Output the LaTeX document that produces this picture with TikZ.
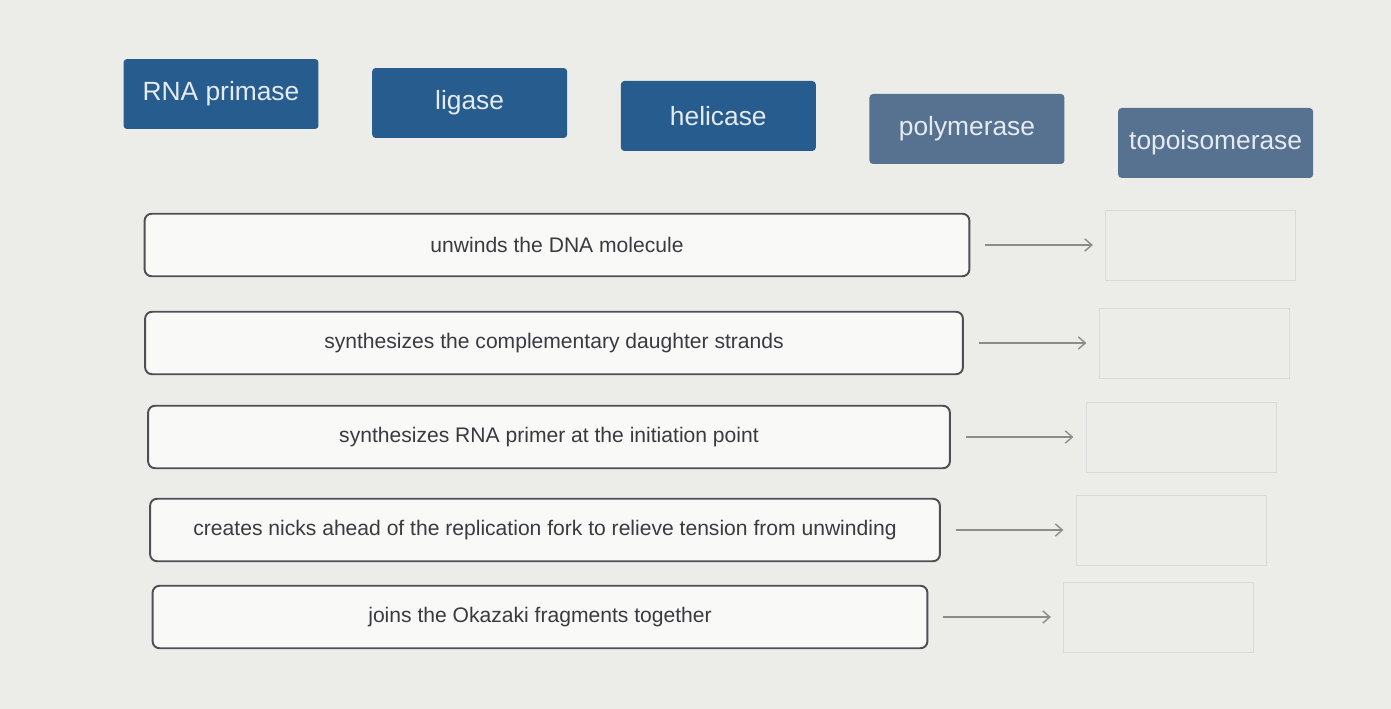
\documentclass[tikz,border=0pt]{standalone}
\usepackage{fontspec}
\setmainfont{Liberation Sans}
\usepackage{xcolor}
\usetikzlibrary{positioning,arrows.meta}
\definecolor{btnblue}{RGB}{38,92,142}
\definecolor{btngray}{RGB}{86,114,144}
\definecolor{paper}{RGB}{236,237,233}
\definecolor{boxline}{RGB}{78,78,84}
\definecolor{ink}{RGB}{58,58,64}

\tikzset{
  enzyme/.style={rectangle, rounded corners=2pt, fill=btnblue, text=white!88!btnblue,
    font=\fontsize{15}{17}\selectfont, minimum width=3.9cm, minimum height=1.4cm},
  descr/.style={rectangle, rounded corners=4pt, draw=boxline, line width=1.1pt,
    fill=white!70!paper, text=ink, font=\fontsize{12}{14}\selectfont, minimum height=1.25cm},
  answer/.style={rectangle, draw=black!15, fill=paper, minimum width=3.8cm, minimum height=1.4cm},
  link/.style={-{Straight Barb[length=4pt,width=7pt]}, draw=black!45, line width=0.8pt,
    shorten <=0.3cm, shorten >=0.25cm}
}

\begin{document}
\begin{tikzpicture}[x=0.02cm, y=-0.02cm]
  \path[fill=paper, use as bounding box] (0,0) rectangle (1391,709);

  % enzymes
  \node[enzyme] (rnaprimase) at (221,94) {RNA primase};
  \node[enzyme, right=1.06cm of rnaprimase, yshift=-0.18cm] (ligase) {ligase};
  \node[enzyme, right=1.06cm of ligase, yshift=-0.26cm] (helicase) {helicase};
  \node[enzyme, fill=btngray, right=1.06cm of helicase, yshift=-0.26cm] (polymerase) {polymerase};
  \node[enzyme, fill=btngray, right=1.06cm of polymerase, yshift=-0.28cm] (topo) {topoisomerase};

  % descriptions
  \node[descr, minimum width=16.5cm] (unwind) at (557,245) {unwinds the DNA molecule};
  \node[descr, minimum width=16.36cm] (daughter) at (554,343) {synthesizes the complementary daughter strands};
  \node[descr, minimum width=16.04cm] (primer) at (549,437) {synthesizes RNA primer at the initiation point};
  \node[descr, minimum width=15.8cm] (nicks) at (545,530) {creates nicks ahead of the replication fork to relieve tension from unwinding};
  \node[descr, minimum width=15.5cm] (okazaki) at (540,617) {joins the Okazaki fragments together};

  % empty answer slots
  \node[answer, right=2.7cm of unwind] (slotA) {};
  \node[answer, right=2.7cm of daughter] (slotB) {};
  \node[answer, right=2.7cm of primer] (slotC) {};
  \node[answer, right=2.7cm of nicks] (slotD) {};
  \node[answer, right=2.7cm of okazaki] (slotE) {};

  \draw[link] (unwind) -- (slotA);
  \draw[link] (daughter) -- (slotB);
  \draw[link] (primer) -- (slotC);
  \draw[link] (nicks) -- (slotD);
  \draw[link] (okazaki) -- (slotE);
\end{tikzpicture}
\end{document}
